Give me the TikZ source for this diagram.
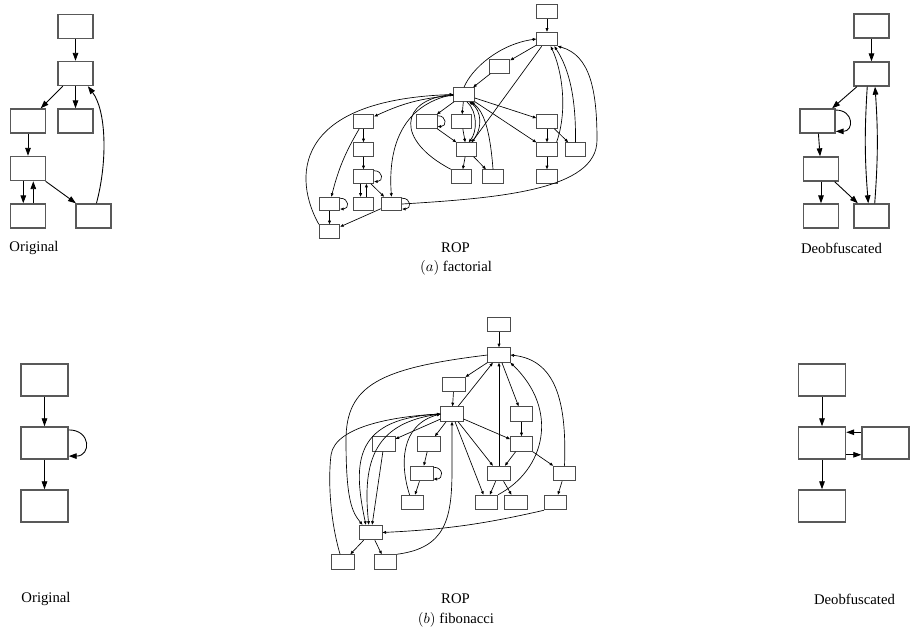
\documentclass[tikz,border=0pt]{standalone}
\usepackage{fontspec}
\setmainfont{Liberation Serif}
\usetikzlibrary{arrows.meta}

\begin{document}
\begin{tikzpicture}[
    x=0.68pt, y=-0.68pt,
    every node/.style={font=\fontsize{10}{12}\selectfont},
    block/.style={draw=black!65, line width=1pt, minimum width=23.8pt, minimum height=16.3pt, inner sep=0pt},
    bigblock/.style={block, minimum width=32pt, minimum height=21.8pt},
    gadget/.style={draw=black!70, line width=0.65pt, minimum width=13.9pt, minimum height=9.2pt, inner sep=0pt},
    biggadget/.style={gadget, minimum width=15pt, minimum height=9.9pt},
    flow/.style={-{Triangle[length=5.4pt,width=3.8pt]}, line width=0.6pt},
    ropflow/.style={-{Triangle[length=2.4pt,width=1.9pt]}, line width=0.45pt},
    selfarc/.style={out=0, in=0, looseness=2.2}
]
\useasboundingbox (0,0) rectangle (912,640);

% ── (a) factorial ──
% Original
\foreach \n/\x/\y in {1/75.5/26.5, 2/75.5/73.5, 3/28/121, 4/75.5/121,
                      5/28/168.5, 6/28/216, 7/93.5/216}
    \node[block] (fo\n) at (\x,\y) {};
\foreach \a/\b in {1/2, 2/3, 2/4, 3/5, 5/7}
    \draw[flow] (fo\a) -- (fo\b);
\draw[flow] ([xshift=-3.2pt]fo5.south) -- ([xshift=-3.2pt]fo6.north);
\draw[flow] ([xshift=3.6pt]fo6.north) -- ([xshift=3.6pt]fo5.south);
\draw[flow] ([xshift=2pt]fo7.north) .. controls (108,160) and (106,110) .. ([xshift=-4pt]fo2.south east);

% ROP
\foreach \n/\x/\y in {1/547/11.5, 2/547/39, 3/499.5/66.5, 4/464/94.5,
    5/363.5/121.5, 6/427/121.5, 7/461.5/121.5, 8/547/121.5,
    9/363.5/149.5, 10/466.5/149.5, 11/547/149.5, 12/575.5/149.5,
    13/363.5/176.5, 14/461.5/176.5, 15/493/176.5, 16/547/176.5,
    17/329.5/204, 18/363.5/204, 19/391.5/204, 20/329.5/231.5}
    \node[gadget] (fr\n) at (\x,\y) {};
\foreach \a/\b in {1/2, 2/3, 3/4, 2/10, 4/6, 4/7, 4/8, 4/11, 5/9, 9/13, 13/19,
    6/10, 7/10, 10/14, 10/15, 8/11, 8/12, 11/16, 17/20, 19/20}
    \draw[ropflow] (fr\a) -- (fr\b);
\draw[ropflow] (fr4) to[bend right=10] (fr5);
\draw[ropflow] (fr5) to[bend right=8] (fr17);
\draw[ropflow] ([xshift=-2pt]fr13.south) -- ([xshift=-2pt]fr18.north);
\draw[ropflow] ([xshift=2pt]fr18.north) -- ([xshift=2pt]fr13.south);
\foreach \n in {6,13,17,19}
    \draw[ropflow] ([yshift=-1pt]fr\n.north east) to[selfarc] ([yshift=1.5pt]fr\n.south east);
\draw[ropflow] (fr4.north) .. controls (472,68) and (500,44) .. (fr2.west);
\draw[ropflow] (fr20.north west) .. controls (294,180) and (290,100) .. (fr4.west);
\draw[ropflow] (fr4.west) .. controls (400,105) and (388,150) .. (fr19.north);
\draw[ropflow] (fr14.north west) .. controls (395,140) and (400,100) .. (fr4.west);
\draw[ropflow] ([xshift=2pt]fr4.south) .. controls (478,112) and (477,132) .. ([xshift=1.5pt]fr10.north);
\draw[ropflow] ([xshift=3.5pt]fr10.north) .. controls (484,128) and (481,110) .. ([xshift=3.5pt]fr4.south);
\draw[ropflow] (fr15.north) .. controls (490,130) and (484,112) .. ([xshift=5pt]fr4.south);
\draw[ropflow] ([xshift=6.5pt]fr11.north) .. controls (568,110) and (562,70) .. ([xshift=2.5pt]fr2.south);
\draw[ropflow] (fr12.north) .. controls (576,100) and (570,70) .. ([xshift=5pt]fr2.south);
\draw[ropflow] (fr19.east) .. controls (500,198) and (597,190) .. (597,140)
    .. controls (597,90) and (590,55) .. (fr2.south east);

% Deobfuscated
\foreach \n/\x/\y in {1/871.5/26, 2/871.5/74, 3/817.5/121, 4/821/169,
                      5/821/216, 6/871.5/216}
    \node[block] (fd\n) at (\x,\y) {};
\foreach \a/\b in {1/2, 2/3, 3/4, 4/5, 4/6}
    \draw[flow] (fd\a) -- (fd\b);
\draw[flow] ([yshift=-1.2pt]fd3.north east) to[selfarc] ([yshift=1.6pt]fd3.south east);
\draw[flow] ([xshift=-2.9pt]fd2.south) to[bend right=4] ([xshift=-2.2pt]fd6.north);
\draw[flow] ([xshift=2.2pt]fd6.north) to[bend right=4] ([xshift=2.4pt]fd2.south);

% Labels
\node (lfo) at (34,248) {Original};
\node (lfr) at (455.5,248) {ROP};
\node (lfd) at (841.5,248) {Deobfuscated};
\node (lfa) at (456,268) {$(a)$ factorial};

% ── (b) fibonacci ──
% Original
\foreach \n/\y in {1/380, 2/443, 3/506}
    \node[bigblock] (bo\n) at (44.5,\y) {};
\draw[flow] (bo1) -- (bo2);
\draw[flow] (bo2) -- (bo3);
\draw[flow] ([yshift=-2.5pt]bo2.north east) to[selfarc] ([yshift=2.5pt]bo2.south east);

% ROP
\foreach \n/\x/\y in {1/499/324.5, 2/499/355, 3/454/384.5, 4/452/414,
    5/521.5/414, 6/384/444, 7/429/444, 8/521.5/444,
    9/422/473.5, 10/499/473.5, 11/564.5/473.5, 12/412.5/502.5,
    13/486.5/502.5, 14/516/502.5, 15/555.5/502.5, 16/371/532.5,
    17/343/562, 18/385.5/562}
    \node[biggadget] (br\n) at (\x,\y) {};
\foreach \a/\b in {1/2, 2/3, 3/4, 4/2, 2/5, 10/2, 5/8, 4/8, 4/10, 4/13, 8/10, 8/11,
    10/13, 10/14, 11/15, 4/6, 4/7, 7/9, 9/12, 6/16, 16/17, 16/18}
    \draw[ropflow] (br\a) -- (br\b);
\draw[ropflow] ([yshift=-1pt]br9.north east) to[selfarc] ([yshift=1.5pt]br9.south east);
\draw[ropflow] (br2.west) .. controls (380,368) and (346,385) .. (346,440)
    .. controls (346,500) and (352,512) .. ([xshift=2pt]br16.north west);
\draw[ropflow] (br4.west) .. controls (355,418) and (352,460) .. ([xshift=-3.5pt]br16.north);
\draw[ropflow] (br4.west) .. controls (375,422) and (362,460) .. ([xshift=-1.5pt]br16.north);
\draw[ropflow] ([xshift=-2pt]br17.north) .. controls (330,520) and (328,480) .. (331,455)
    .. controls (335,425) and (400,416) .. (br4.west);
\draw[ropflow] (br18.north east) .. controls (445,548) and (452,520) .. (452,470) -- (br4.south);
\draw[ropflow] ([xshift=-2pt]br12.north) .. controls (400,465) and (400,425) .. (br4.west);
\draw[ropflow] (br13.north east) .. controls (545,470) and (560,410) .. (br2.south east);
\draw[ropflow] (br11.north) .. controls (567,400) and (555,360) .. (br2.east);
\draw[ropflow] (br15.south west) to[bend left=5] (br16.east);

% Deobfuscated
\foreach \n/\x/\y in {1/822/380, 2/822/443, 3/822/506, 4/885.5/443}
    \node[bigblock] (bd\n) at (\x,\y) {};
\draw[flow] (bd1) -- (bd2);
\draw[flow] (bd2) -- (bd3);
\draw[flow] ([yshift=7.3pt]bd4.west) -- ([yshift=7.3pt]bd2.east);
\draw[flow] ([yshift=-8pt]bd2.east) -- ([yshift=-8pt]bd4.west);

% Labels
\node (lbo) at (46,599) {Original};
\node (lbr) at (455.5,599) {ROP};
\node (lbd) at (854.5,599) {Deobfuscated};
\node (lbb) at (456,620) {$(b)$ fibonacci};

\end{tikzpicture}
\end{document}
